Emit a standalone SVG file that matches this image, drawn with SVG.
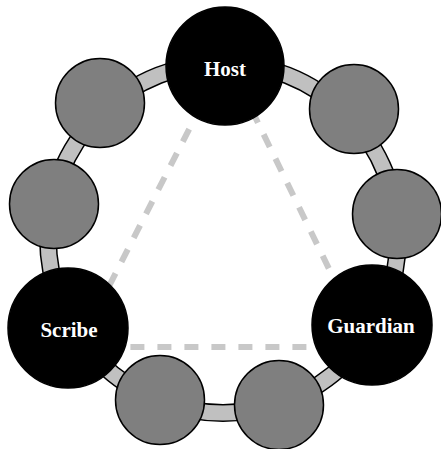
<svg xmlns="http://www.w3.org/2000/svg" width="441" height="449" viewBox="0 0 441 449">
  <style>
    .ring-edge { fill: none; stroke: #000; stroke-width: 18; }
    .ring-fill { fill: none; stroke: #c0c0c0; stroke-width: 15; }
    .tri { fill: none; stroke: #c8c8c8; stroke-width: 6; stroke-dasharray: 14 13; }
    .member { fill: #7f7f7f; stroke: #000; stroke-width: 1.5; }
    .role { fill: #000; stroke: #000; stroke-width: 1.5; }
    .label { fill: #fff; font-family: "Liberation Serif", "Times New Roman", serif; font-weight: bold; font-size: 21px; text-anchor: middle; }
  </style>
  <rect width="441" height="449" fill="#fff"/>

  <g id="connectors">
    <!-- the ring band -->
    <circle class="ring-edge" cx="223" cy="238" r="175"/>
    <circle class="ring-fill" cx="223" cy="238" r="175"/>
    <!-- dashed triangle between the three roles -->
    <polygon class="tri" points="226,57 78,347 367,347"/>
  </g>

  <g id="member-1"><circle class="member" cx="100" cy="103" r="44.5"/></g>
  <g id="member-2"><circle class="member" cx="54" cy="204" r="44.5"/></g>
  <g id="member-3"><circle class="member" cx="354" cy="109" r="44.5"/></g>
  <g id="member-4"><circle class="member" cx="397" cy="214" r="44.5"/></g>
  <g id="member-5"><circle class="member" cx="160" cy="400" r="44.5"/></g>
  <g id="member-6"><circle class="member" cx="279" cy="405" r="44.5"/></g>

  <g id="host">
    <circle class="role" cx="225" cy="66" r="59"/>
    <text class="label" x="225" y="76">Host</text>
  </g>
  <g id="scribe">
    <circle class="role" cx="68" cy="328" r="60"/>
    <text class="label" x="69" y="337">Scribe</text>
  </g>
  <g id="guardian">
    <circle class="role" cx="372" cy="325" r="60"/>
    <text class="label" x="371" y="333">Guardian</text>
  </g>
</svg>
